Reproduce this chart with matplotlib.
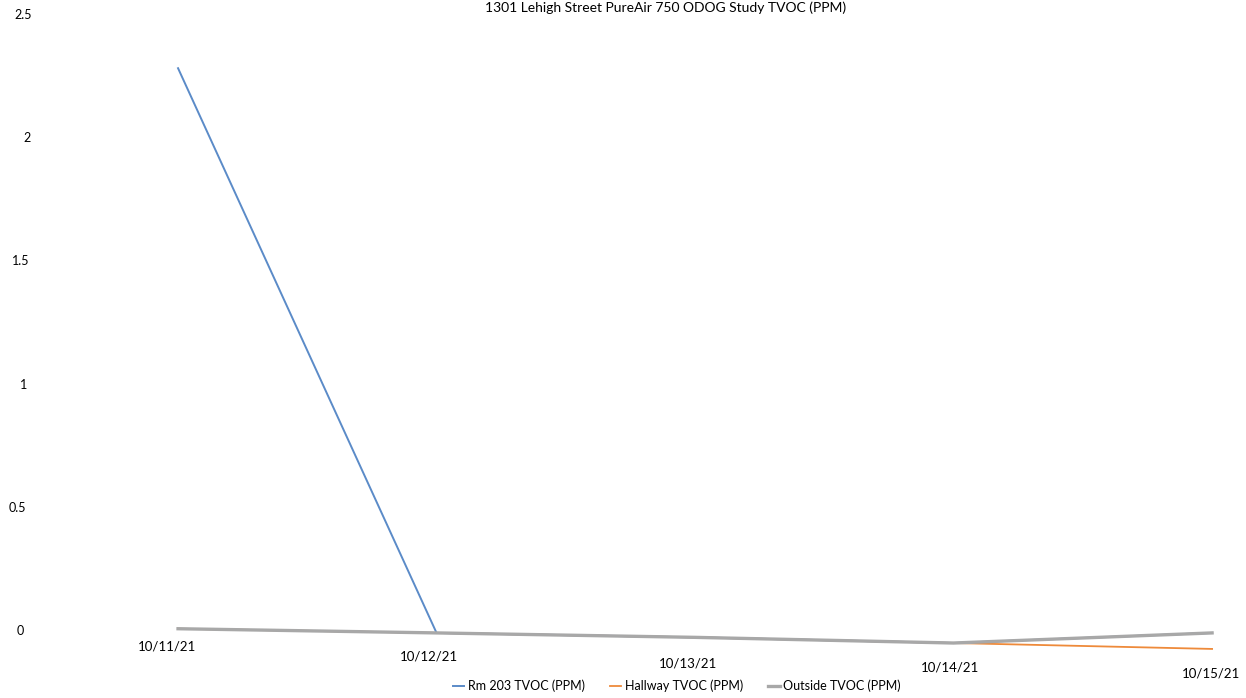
import matplotlib
matplotlib.use("Agg")
import matplotlib.pyplot as plt
from matplotlib.transforms import ScaledTranslation

plt.rcParams['font.family'] = ['Lato', 'DejaVu Sans']

dates = ["10/11/21", "10/12/21", "10/13/21", "10/14/21", "10/15/21"]
rm203 = [2.28, -0.012, -0.03, -0.053, -0.012]
hallway = [0.005, -0.012, -0.03, -0.053, -0.077]
outside = [0.005, -0.012, -0.03, -0.053, -0.012]
yticks = [0, 0.5, 1, 1.5, 2, 2.5]
yticklabels = ["0", "0.5", "1", "1.5", "2", "2.5"]
title = "1301 Lehigh Street PureAir 750 ODOG Study TVOC (PPM)"

W, H = 1246, 698
fig = plt.figure(figsize=(W / 100, H / 100), dpi=100)
left, right = 40, 1240
top, bottom = 14, 654.6
ax = fig.add_axes([left / W, 1 - bottom / H, (right - left) / W, (bottom - top) / H])

x = list(range(len(dates)))
ax.plot(x, rm203, color="#5B8BC8", lw=1.4, label="Rm 203 TVOC (PPM)", clip_on=False, zorder=2)
ax.plot(x, hallway, color="#EE8A3A", lw=1.3, label="Hallway TVOC (PPM)", clip_on=False, zorder=2)
ax.plot(x, outside, color="#A8A8A8", lw=2.4, label="Outside TVOC (PPM)", clip_on=False, zorder=3)

ax.set_xlim(-0.534, 4.108)
ax.set_ylim(-0.1, 2.5)
ax.set_yticks(yticks)
ax.set_yticklabels(yticklabels, fontsize=9)
ax.set_xticks(x)
ax.set_xticklabels(dates, fontsize=9.5)
ax.tick_params(axis='both', length=0)
ax.tick_params(axis='x', pad=0)
ax.tick_params(axis='y', pad=6)
for s in ax.spines.values():
    s.set_visible(False)

# scanned page skew: labels drift slightly
dx_px = [-11, -8, -7, -4, -1]
dy_px = [14, 4, -3, -7, -13]
for lab, ddx, ddy in zip(ax.get_xticklabels(), dx_px, dy_px):
    lab.set_transform(lab.get_transform() + ScaledTranslation(ddx / 100, ddy / 100, fig.dpi_scale_trans))
ydx = [-8, -6, -4, -2, -1, 0]
for lab, ddx in zip(ax.get_yticklabels(), ydx):
    lab.set_transform(lab.get_transform() + ScaledTranslation(ddx / 100, 0, fig.dpi_scale_trans))

fig.text(666 / W, 1 - 8 / H, title, ha="center", va="center", fontsize=10)

ax.legend(loc="center", bbox_to_anchor=(677 / W, 1 - 686 / H), bbox_transform=fig.transFigure,
          ncol=3, frameon=False, fontsize=9, handlelength=0.9, handletextpad=0.3,
          columnspacing=2.0)

fig.savefig("out.png", dpi=100)
